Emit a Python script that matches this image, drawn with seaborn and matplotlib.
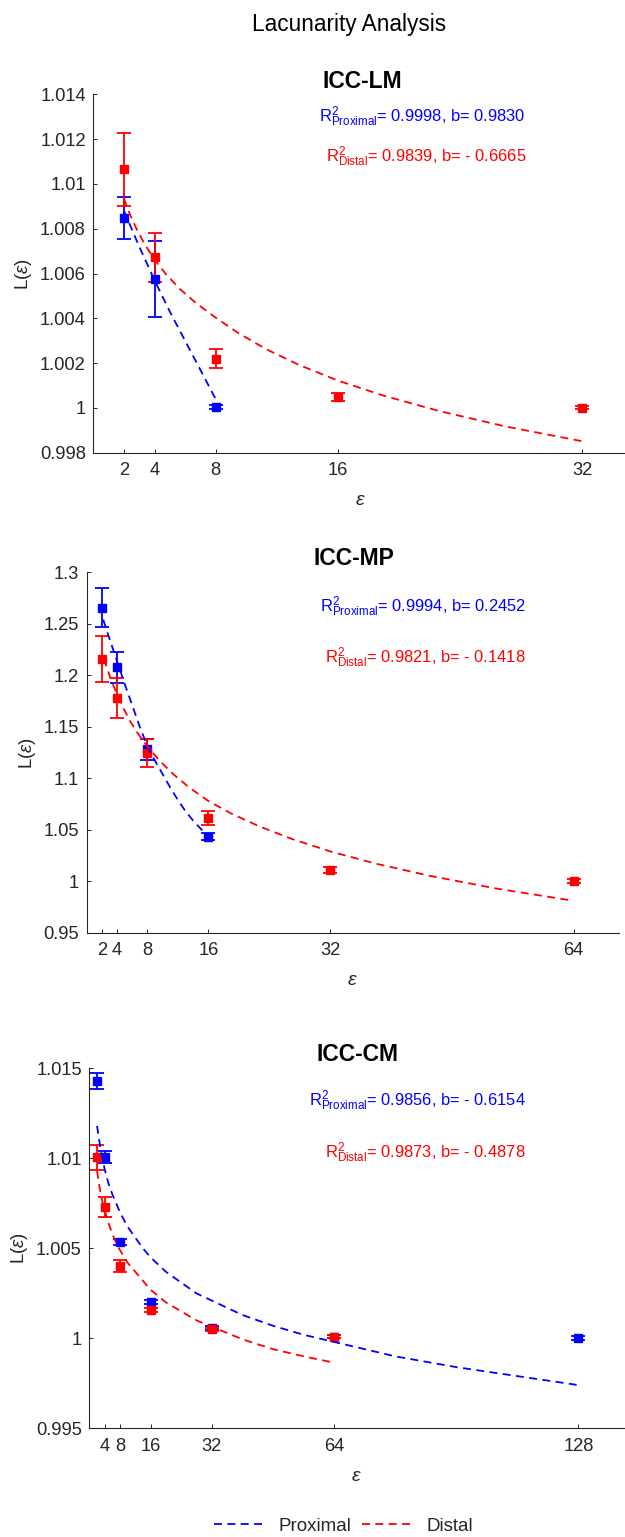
import matplotlib
matplotlib.use("Agg")
import matplotlib.pyplot as plt
import seaborn as sns

# ---------------- data ----------------
# ICC-LM
lm_prox_x = [2, 4, 8]
lm_prox_y = [1.00848, 1.00577, 1.00005]
lm_prox_err = [0.00094, 0.0017, 0.0001]
lm_dist_x = [2, 4, 8, 16, 32]
lm_dist_y = [1.01065, 1.00672, 1.00219, 1.00047, 1.00000]
lm_dist_err = [0.00162, 0.00109, 0.00042, 0.00018, 0.00007]
lm_fitp_x = [2, 3, 4, 5, 6, 7, 8]
lm_fitp_y = [1.0088, 1.0072, 1.0057, 1.0043, 1.0030, 1.0017, 1.0004]
lm_fitd_x = [2, 2.38, 2.83, 3.36, 4, 4.76, 5.66, 6.73, 8, 9.51, 11.31, 13.45,
             16, 19.03, 22.63, 26.91, 32]
lm_fitd_y = [1.00935, 1.00866, 1.00798, 1.00730, 1.00662, 1.00596, 1.00531,
             1.00467, 1.00403, 1.00333, 1.00262, 1.00192, 1.00122, 1.00054,
             0.99986, 0.99918, 0.99851]

# ICC-MP
mp_prox_x = [2, 4, 8, 16]
mp_prox_y = [1.2657, 1.2077, 1.1281, 1.0433]
mp_prox_err = [0.019, 0.0153, 0.0104, 0.0035]
mp_dist_x = [2, 4, 8, 16, 32, 64]
mp_dist_y = [1.2158, 1.1783, 1.1248, 1.0617, 1.0108, 1.0001]
mp_dist_err = [0.0228, 0.0194, 0.0137, 0.0068, 0.0026, 0.002]
mp_fitp_x = [2.2, 3, 4, 5, 6, 7, 8, 9, 10, 11, 12, 13, 14, 15, 16]
mp_fitp_y = [1.254, 1.236, 1.214, 1.192, 1.171, 1.150, 1.131, 1.117, 1.104,
             1.091, 1.079, 1.068, 1.059, 1.051, 1.044]
mp_fitd_x = [2.3, 2.7, 3.2, 4, 4.8, 5.7, 6.7, 8, 9.5, 11.3, 13.5, 16, 19, 22.6,
             27, 32, 38, 45, 54, 64]
mp_fitd_y = [1.216, 1.2068, 1.196, 1.182, 1.1686, 1.1559, 1.1440, 1.131,
             1.1179, 1.1046, 1.0910, 1.078, 1.0658, 1.0536, 1.0410, 1.029,
             1.0171, 1.0054, 0.9927, 0.981]

# ICC-CM
cm_prox_x = [2, 4, 8, 16, 32, 64, 128]
cm_prox_y = [1.01431, 1.01007, 1.00535, 1.00202, 1.00056, 1.0001, 1.00003]
cm_prox_err = [0.00045, 0.00032, 0.00015, 0.00012, 0.0001, 0.0001, 0.0001]
cm_dist_x = [2, 4, 8, 16, 32, 64]
cm_dist_y = [1.01006, 1.00731, 1.00402, 1.00157, 1.00050, 1.00009]
cm_dist_err = [0.0007, 0.00056, 0.00034, 0.00013, 0.0001, 0.0001]
cm_fitp_x = [2, 2.5, 3, 3.5, 4, 5, 6, 7, 8, 10, 12, 14, 16, 20, 24, 28, 32,
             40, 48, 56, 64, 80, 96, 112, 128]
cm_fitp_y = [1.0118, 1.0111, 1.0104, 1.0099, 1.0094, 1.0086, 1.0080, 1.0075,
             1.0070, 1.0062, 1.0056, 1.0050, 1.0045, 1.0037, 1.0031, 1.0025,
             1.0021, 1.0013, 1.0007, 1.0002, 0.9998, 0.9990, 0.9984, 0.9979,
             0.9974]
cm_fitd_x = [2, 2.5, 3, 3.5, 4, 5, 6, 7, 8, 10, 12, 14, 16, 20, 24, 28, 32,
             40, 48, 56, 64]
cm_fitd_y = [1.0093, 1.0086, 1.0080, 1.0075, 1.0071, 1.0064, 1.0058, 1.0053,
             1.0049, 1.0042, 1.0037, 1.0032, 1.0027, 1.0020, 1.0015, 1.0010,
             1.00065, 0.99995, 0.9994, 0.9990, 0.99865]

titles = ["ICC-LM", "ICC-MP", "ICC-CM"]
prox_labels = ["= 0.9998, b= 0.9830", "= 0.9994, b= 0.2452", "= 0.9856, b= - 0.6154"]
dist_labels = ["= 0.9839, b= - 0.6665", "= 0.9821, b= - 0.1418", "= 0.9873, b= - 0.4878"]
xticks_list = [[2, 4, 8, 16, 32], [2, 4, 8, 16, 32, 64], [4, 8, 16, 32, 64, 128]]
xlims = [(0, 35), (0, 70), (0, 140)]
yticks_list = [[0.998, 1, 1.002, 1.004, 1.006, 1.008, 1.01, 1.012, 1.014],
               [0.95, 1, 1.05, 1.1, 1.15, 1.2, 1.25, 1.3],
               [0.995, 1, 1.005, 1.01, 1.015]]
ylims = [(0.998, 1.014), (0.95, 1.3), (0.995, 1.015)]

# ---------------- style ----------------
sns.set_theme(style="ticks")
plt.rcParams["font.family"] = ["Liberation Sans", "DejaVu Sans"]
plt.rcParams["mathtext.fontset"] = "custom"
plt.rcParams["mathtext.rm"] = "Liberation Sans"
plt.rcParams["mathtext.it"] = "Liberation Sans:italic"
plt.rcParams["mathtext.fallback"] = "cm"

BLUE = (0, 0, 1)
RED = (1, 0, 0)
AXC = "#262626"

W, H = 625, 1537
fig = plt.figure(figsize=(W / 100, H / 100), dpi=100)

# axes rectangles in pixels: left, top, right, bottom
rects = [(93.4, 94.3, 628.2, 452.7),
         (86.5, 572.3, 619.2, 932.7),
         (89.4, 1068.3, 624.2, 1428.3)]

panels = [
    (lm_prox_x, lm_prox_y, lm_prox_err, lm_dist_x, lm_dist_y, lm_dist_err,
     lm_fitp_x, lm_fitp_y, lm_fitd_x, lm_fitd_y),
    (mp_prox_x, mp_prox_y, mp_prox_err, mp_dist_x, mp_dist_y, mp_dist_err,
     mp_fitp_x, mp_fitp_y, mp_fitd_x, mp_fitd_y),
    (cm_prox_x, cm_prox_y, cm_prox_err, cm_dist_x, cm_dist_y, cm_dist_err,
     cm_fitp_x, cm_fitp_y, cm_fitd_x, cm_fitd_y),
]

dash = (0, (4.4, 3.0))
handles = None
for i, (rect, pdata) in enumerate(zip(rects, panels)):
    l, t, r, b = rect
    ax = fig.add_axes([l / W, 1 - b / H, (r - l) / W, (b - t) / H])
    px, py, pe, dx, dy, de, fpx, fpy, fdx, fdy = pdata

    for xs, ys, es, c in [(px, py, pe, BLUE), (dx, dy, de, RED)]:
        ax.errorbar(xs, ys, yerr=es, fmt="s", color=c, ecolor=c, ms=5.8,
                    markeredgecolor=c, capsize=4.7, elinewidth=1.3,
                    capthick=1.3, zorder=3)
    sns.lineplot(x=fpx, y=fpy, ax=ax, color=BLUE, linestyle=dash, linewidth=1.3,
                 sort=False, label="Proximal", legend=False, zorder=4)
    sns.lineplot(x=fdx, y=fdy, ax=ax, color=RED, linestyle=dash, linewidth=1.3,
                 sort=False, label="Distal", legend=False, zorder=4)
    if handles is None:
        handles = ax.get_lines()[-2:]

    ax.set_xlim(*xlims[i])
    ax.set_ylim(*ylims[i])
    ax.set_xticks(xticks_list[i])
    ax.set_xticklabels([str(v) for v in xticks_list[i]])
    ax.set_yticks(yticks_list[i])
    ax.set_yticklabels(["%g" % v for v in yticks_list[i]])

    for s in ["top", "right"]:
        ax.spines[s].set_visible(False)
    for s in ["left", "bottom"]:
        ax.spines[s].set_color(AXC)
        ax.spines[s].set_linewidth(0.8)
    ax.tick_params(axis="both", direction="in", length=3, width=0.7,
                   colors=AXC, labelsize=13.2)
    ax.tick_params(axis="x", pad=7)
    ax.tick_params(axis="y", pad=5.5)

    ax.set_xlabel(r"$\epsilon$", fontsize=14, color=AXC, labelpad=9)
    ax.set_ylabel(r"L($\epsilon$)", fontsize=13.5, color=AXC, labelpad=4)

    ax.text(0.502, 1.037, titles[i], transform=ax.transAxes, ha="center",
            va="center", fontsize=16.5, fontweight="bold", color="black")

    ax_w, ax_h = r - l, b - t
    yp = [116.3, 606.6, 1100.9][i]
    yd = [156.4, 658.0, 1153.0][i]
    xr = 526
    ax.text((xr - l) / ax_w, (b - yp) / ax_h,
            r"R$^2_{\mathrm{Proximal}}$" + prox_labels[i],
            transform=ax.transAxes, ha="right", va="center",
            fontsize=11.9, color=BLUE)
    ax.text((xr - l) / ax_w, (b - yd) / ax_h,
            r"R$^2_{\mathrm{Distal}}$" + dist_labels[i],
            transform=ax.transAxes, ha="right", va="center",
            fontsize=11.9, color=RED)

fig.text(349 / W, 1 - 25 / H, "Lacunarity Analysis", ha="center", va="center",
         fontsize=16.3, color="black")

leg = fig.legend(handles, ["Proximal", "Distal"], loc="center",
                 bbox_to_anchor=(343.5 / W, 1 - 1526 / H), ncol=2, frameon=False,
                 fontsize=13.5, handlelength=2.8, handletextpad=0.6,
                 columnspacing=0.6, borderpad=0.1)
for txt in leg.get_texts():
    txt.set_color(AXC)

fig.savefig("out.png", dpi=100)
